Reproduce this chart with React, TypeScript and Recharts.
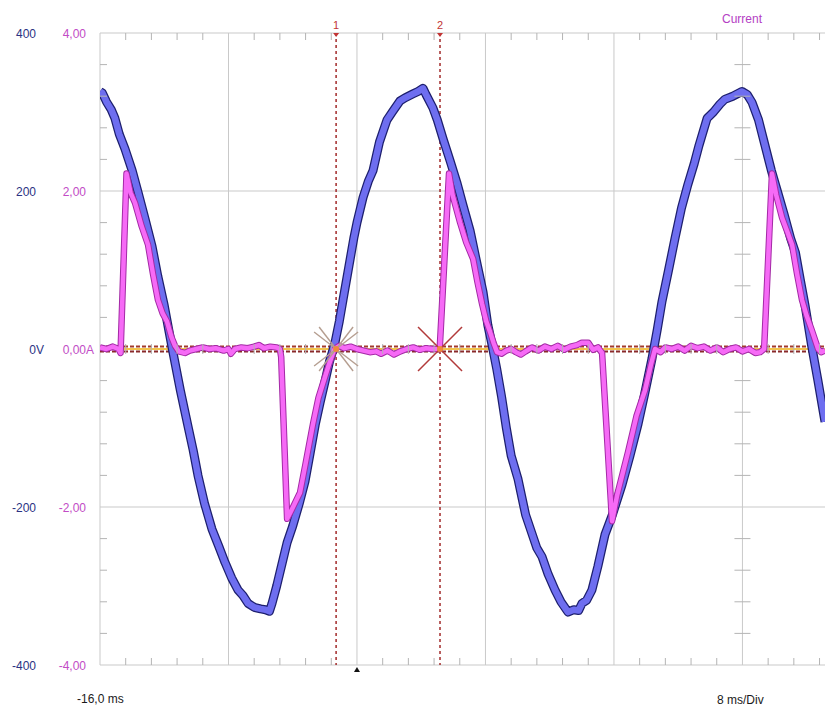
import React from 'react';
import { LineChart, Line, XAxis, YAxis, ReferenceLine, ReferenceDot } from 'recharts';

// Voltage trace: time (ms) and volts
const voltTime = [
  -16.0, -15.85, -15.6, -15.3, -15.07, -14.8, -14.44, -14.0, -13.6, -13.2, -12.76, -12.4, -12.0, -11.7, -11.45,
  -11.0, -10.52, -10.2, -9.9, -9.5, -9.03, -8.6, -8.22, -7.8, -7.41, -7.1, -6.78, -6.4, -6.0, -5.7, -5.45, -5.29,
  -5.0, -4.67, -4.35, -4.0, -3.6, -3.24, -2.9, -2.6, -2.3, -2.0, -1.7, -1.4, -1.1, -0.87, -0.5, -0.2, 0.0, 0.38,
  0.7, 1.0, 1.4, 1.87, 2.2, 2.68, 3.0, 3.49, 3.8, 4.11, 4.3, 4.73, 5.0, 5.36, 5.8, 6.23, 6.6, 7.04, 7.4, 7.85,
  8.15, 8.41, 8.7, 9.0, 9.3, 9.6, 10.03, 10.5, 10.9, 11.2, 11.52, 11.9, 12.33, 12.7, 13.14, 13.5, 13.8, 14.01,
  14.3, 14.63, 15.0, 15.44, 15.9, 16.5, 17.0, 17.5, 17.9, 18.37, 18.7, 18.99, 19.4, 19.8, 20.2, 20.6, 21.0, 21.3,
  21.8, 22.2, 22.6, 22.9, 23.4, 23.97, 24.3, 24.6, 25.0, 25.4, 25.8, 26.2, 26.6, 27.0, 27.3, 27.6, 27.9, 28.3,
  28.7, 29.14,
];
const voltValue = [
  326, 324, 313, 303, 292, 272, 253, 226, 196, 165, 130, 92, 55, 22, -5,
  -52, -98, -128, -160, -195, -228, -250, -270, -290, -305, -312, -322, -327, -329, -330, -332, -322,
  -300, -272, -245, -224, -196, -168, -130, -96, -68, -42, -15, 5, 35, 62, 105, 140, 160, 192,
  212, 226, 262, 290, 300, 314, 318, 323, 326, 330, 322, 305, 290, 266, 238, 210, 182, 150, 115, 72,
  30, 5, -25, -60, -100, -135, -165, -210, -234, -252, -263, -285, -305, -320, -333, -330, -331, -322,
  -318, -305, -275, -235, -210, -172, -135, -95, -58, -12, 25, 60, 100, 140, 178, 208, 235, 258,
  292, 300, 310, 316, 320, 326, 322, 312, 290, 258, 226, 198, 170, 140, 122, 88, 55, 5,
  -40, -92,
];

// Current trace: time (ms) and amps
const currTime = [
  -16.0, -15.6, -15.2, -14.85, -14.72, -14.35, -14.1, -13.82, -13.4, -13.01, -12.7, -12.39, -12.1, -11.83, -11.55,
  -11.33, -11.1, -10.71, -10.4, -10.0, -9.6, -9.2, -8.8, -8.3, -8.0, -7.85, -7.6, -7.2, -6.8, -6.4, -6.1, -5.8,
  -5.4, -5.0, -4.8, -4.72, -4.35, -4.1, -3.55, -3.2, -2.74, -2.4, -2.11, -1.75, -1.4, -1.1, -0.8, -0.4, 0.0,
  0.4, 0.8, 1.2, 1.5, 1.9, 2.3, 2.7, 3.1, 3.5, 3.9, 4.3, 4.7, 5.15, 5.73, 5.95, 6.42, 6.8, 7.23, 7.5, 7.79,
  8.05, 8.28, 8.5, 8.72, 9.0, 9.3, 9.6, 9.9, 10.2, 10.5, 10.9, 11.3, 11.7, 12.1, 12.5, 12.9, 13.3, 13.7, 14.0,
  14.4, 14.7, 15.0, 15.26, 15.88, 16.2, 16.88, 17.4, 17.94, 18.3, 18.56, 18.9, 19.2, 19.6, 20.0, 20.4, 20.8,
  21.2, 21.6, 22.0, 22.4, 22.8, 23.2, 23.6, 24.0, 24.4, 24.8, 25.1, 25.35, 25.84, 26.1, 26.47, 26.8, 27.09,
  27.4, 27.71, 28.0, 28.33, 28.71, 28.9, 29.14,
];
const currValue = [
  0.02, 0.0, 0.03, 0.0, -0.05, 2.22, 1.98, 1.85, 1.55, 1.32, 0.95, 0.62, 0.45, 0.35, 0.15,
  0.04, -0.03, -0.05, -0.02, 0.0, 0.02, 0.0, 0.01, -0.02, 0.0, -0.06, 0.0, 0.02, 0.01, 0.03, 0.05, 0.01,
  0.03, 0.02, 0.0, -0.1, -2.15, -2.05, -1.82, -1.45, -0.95, -0.62, -0.43, -0.2, 0.0, 0.04, 0.01, 0.03, 0.0,
  -0.02, -0.04, -0.03, -0.06, -0.02, -0.07, -0.03, 0.0, 0.02, -0.01, 0.01, 0.0, 0.0, 2.22, 1.95, 1.6, 1.35, 1.14, 0.85, 0.57,
  0.35, 0.22, 0.08, -0.04, -0.06, -0.02, 0.0, -0.04, -0.07, -0.03, 0.02, -0.02, 0.03, 0.0, 0.04, -0.01, 0.03, 0.05, 0.08,
  0.08, -0.01, 0.02, -0.05, -2.18, -1.85, -1.3, -0.85, -0.52, -0.2, 0.0, -0.04, 0.02, 0.0, 0.03, -0.02, 0.04,
  0.01, 0.03, -0.02, 0.02, -0.04, 0.0, 0.02, -0.03, 0.0, -0.05, -0.04, 0.0, 2.22, 1.95, 1.66, 1.48, 1.32,
  0.95, 0.62, 0.42, 0.23, 0.0, -0.04, -0.02,
];

// Axis labels
const voltTicks = [400, 200, 0, -200, -400];
const voltLabels = ['400', '200', '0', '-200', '-400'];
const ampLabels = ['4,00', '2,00', '0,00', '-2,00', '-4,00'];

// Screen divisions (8 ms/div, 200 V/div) and sub-divisions
const timeDomain = [-16, 29.14];
const gridTimes = [-8, 0, 8, 16, 24];
const gridVolts = [200, -200];
const minorTimes = [
  -14.4, -12.8, -11.2, -9.6, -6.4, -4.8, -3.2, -1.6, 1.6, 3.2, 4.8, 6.4, 9.6, 11.2, 12.8, 14.4,
  17.6, 19.2, 20.8, 22.4, 25.6, 27.2, 28.8,
];
const minorVolts = [360, 320, 280, 240, 160, 120, 80, 40, -40, -80, -120, -160, -240, -280, -320, -360];
const centerTime = 24;
const triggerTime = 0;
const cursorTimes = [-1.3, 5.17];
const cursorNames = ['1', '2'];

const voltData = voltTime.map((t, i) => ({ t, v: voltValue[i] }));
const currData = currTime.map((t, i) => ({ t, a: currValue[i] }));

const FONT = '"Liberation Sans", Arial, sans-serif';
const GRID = '#c9c9c9';
const TICK = '#b4b4b4';
const NAVY = '#2b3283';
const MAGENTA = '#c24cc6';
const CURSOR = '#a32a2a';

function VoltTick(props: any) {
  const { y, payload } = props;
  const i = voltTicks.indexOf(payload.value);
  const zero = payload.value === 0;
  return (
    <g fontFamily={FONT} fontSize={12}>
      <text x={36} y={y + 1} textAnchor="end" dominantBaseline="central" fill={NAVY}>{voltLabels[i]}</text>
      {zero && <text x={36} y={y + 1} textAnchor="start" dominantBaseline="central" fill={NAVY}>V</text>}
      <text x={86} y={y + 1} textAnchor="end" dominantBaseline="central" fill={MAGENTA}>{ampLabels[i]}</text>
      {zero && <text x={86} y={y + 1} textAnchor="start" dominantBaseline="central" fill={MAGENTA}>A</text>}
    </g>
  );
}

// voltage and current zero markers sit on top of each other
function ZeroLines(p: any) {
  const { x1, x2, y1 } = p;
  return (
    <g>
      <line x1={x1} x2={x2} y1={y1} y2={y1} stroke="#f2c44c" strokeWidth={2} />
      <line x1={x1} x2={x2} y1={y1 - 2.5} y2={y1 - 2.5} stroke="#a23a2c" strokeWidth={2} strokeDasharray="4 2" />
      <line x1={x1} x2={x2} y1={y1 + 2.5} y2={y1 + 2.5} stroke="#8a2a2a" strokeWidth={2} strokeDasharray="4 2" />
    </g>
  );
}

const cursorShape = (name: string) => (p: any) => {
  const top = Math.min(p.y1, p.y2);
  const bottom = Math.max(p.y1, p.y2);
  return (
    <g>
      <line x1={p.x1} x2={p.x1} y1={top} y2={bottom} stroke={CURSOR} strokeWidth={1.5} strokeDasharray="3 3" />
      <path d={`M${p.x1 - 3},${top} L${p.x1 + 3},${top} L${p.x1},${top + 4} Z`} fill="#c23434" />
      <text x={p.x1} y={top - 8} textAnchor="middle" dominantBaseline="central" fontFamily={FONT} fontSize={11} fill="#c23434">
        {name}
      </text>
    </g>
  );
};

const StarMarker = (p: any) => {
  const { cx, cy } = p;
  return (
    <g stroke="#b59e90" strokeWidth={1.4}>
      <line x1={cx - 17} y1={cy - 22} x2={cx + 17} y2={cy + 22} />
      <line x1={cx - 22} y1={cy - 17} x2={cx + 22} y2={cy + 17} />
      <line x1={cx - 17} y1={cy + 22} x2={cx + 17} y2={cy - 22} />
      <line x1={cx - 22} y1={cy + 17} x2={cx + 22} y2={cy - 17} />
      <circle cx={cx} cy={cy} r={3} fill="#f08a3c" stroke="none" />
    </g>
  );
};

const CrossMarker = (p: any) => {
  const { cx, cy } = p;
  return (
    <g stroke="#b23a3a" strokeWidth={1.5}>
      <line x1={cx - 22} y1={cy - 22} x2={cx + 22} y2={cy + 22} />
      <line x1={cx - 22} y1={cy + 22} x2={cx + 22} y2={cy - 22} />
      <circle cx={cx} cy={cy} r={3} fill="#f08a3c" stroke="none" />
    </g>
  );
};

const tickDown = (p: any) => <line x1={p.cx} x2={p.cx} y1={p.cy} y2={p.cy + 7} stroke={TICK} />;
const tickUp = (p: any) => <line x1={p.cx} x2={p.cx} y1={p.cy - 7} y2={p.cy} stroke={TICK} />;
const tickMid = (p: any) => <line x1={p.cx} x2={p.cx} y1={p.cy - 5} y2={p.cy + 5} stroke={TICK} />;
const tickRight = (p: any) => <line x1={p.cx} x2={p.cx + 7} y1={p.cy} y2={p.cy} stroke={TICK} />;
const tickCross = (p: any) => <line x1={p.cx - 8} x2={p.cx + 8} y1={p.cy} y2={p.cy} stroke={TICK} />;
const triggerMark = (p: any) => (
  <path d={`M${p.cx - 3},${p.cy + 7} L${p.cx + 3},${p.cy + 7} L${p.cx},${p.cy + 2} Z`} fill="#111" />
);

const textStyle: React.CSSProperties = {
  position: 'absolute',
  fontFamily: FONT,
  fontSize: 12,
  lineHeight: '14px',
  whiteSpace: 'nowrap',
};

export default function App() {
  return (
    <div style={{ position: 'absolute', left: 0, top: 0, width: 825, height: 709, background: '#fff', overflow: 'hidden' }}>
      <LineChart width={825} height={709} margin={{ top: 33, right: 0, bottom: 44, left: 0 }}>
        <XAxis dataKey="t" type="number" domain={timeDomain} allowDataOverflow hide />
        <YAxis
          yAxisId="v"
          type="number"
          domain={[-400, 400]}
          ticks={voltTicks}
          interval={0}
          width={100}
          tick={VoltTick}
          tickLine={false}
          axisLine={false}
        />
        <YAxis yAxisId="a" type="number" domain={[-4, 4]} hide />

        {/* frame and divisions */}
        <ReferenceLine yAxisId="v" x={timeDomain[0]} stroke={GRID} ifOverflow="visible" />
        <ReferenceLine yAxisId="v" y={400} stroke={GRID} ifOverflow="visible" />
        <ReferenceLine yAxisId="v" y={-400} stroke={GRID} ifOverflow="visible" />
        {gridTimes.map((t) => (
          <ReferenceLine key={`gx${t}`} yAxisId="v" x={t} stroke={GRID} />
        ))}
        {gridVolts.map((v) => (
          <ReferenceLine key={`gy${v}`} yAxisId="v" y={v} stroke={GRID} />
        ))}
        {minorTimes.map((t) => (
          <ReferenceDot key={`mt${t}`} yAxisId="v" x={t} y={400} shape={tickDown} ifOverflow="visible" />
        ))}
        {minorTimes.map((t) => (
          <ReferenceDot key={`mb${t}`} yAxisId="v" x={t} y={-400} shape={tickUp} ifOverflow="visible" />
        ))}
        {minorTimes.map((t) => (
          <ReferenceDot key={`mm${t}`} yAxisId="v" x={t} y={0} shape={tickMid} ifOverflow="visible" />
        ))}
        {minorVolts.map((v) => (
          <ReferenceDot key={`ml${v}`} yAxisId="v" x={timeDomain[0]} y={v} shape={tickRight} ifOverflow="visible" />
        ))}
        {minorVolts.map((v) => (
          <ReferenceDot key={`mc${v}`} yAxisId="v" x={centerTime} y={v} shape={tickCross} ifOverflow="visible" />
        ))}
        <ReferenceDot yAxisId="v" x={triggerTime} y={-400} shape={triggerMark} ifOverflow="visible" />

        <ReferenceLine yAxisId="v" y={0} shape={ZeroLines} />
        {cursorTimes.map((t, i) => (
          <ReferenceLine key={`c${i}`} yAxisId="v" x={t} shape={cursorShape(cursorNames[i])} />
        ))}

        {/* voltage trace: dark outline + blue body */}
        <Line yAxisId="v" data={voltData} dataKey="v" type="linear" stroke="#1d1f6e" strokeWidth={9}
          strokeLinejoin="round" dot={false} activeDot={false} isAnimationActive={false} />
        <Line yAxisId="v" data={voltData} dataKey="v" type="linear" stroke="#6e6ef0" strokeWidth={6.5}
          strokeLinejoin="round" dot={false} activeDot={false} isAnimationActive={false} />

        {/* current trace: purple outline + magenta body */}
        <Line yAxisId="a" data={currData} dataKey="a" type="linear" stroke="#a32aa5" strokeWidth={6.5}
          strokeLinejoin="round" dot={false} activeDot={false} isAnimationActive={false} />
        <Line yAxisId="a" data={currData} dataKey="a" type="linear" stroke="#f66af6" strokeWidth={4.5}
          strokeLinejoin="round" dot={false} activeDot={false} isAnimationActive={false} />

        <ReferenceDot yAxisId="v" x={cursorTimes[0]} y={0} shape={StarMarker} />
        <ReferenceDot yAxisId="v" x={cursorTimes[1]} y={0} shape={CrossMarker} />
      </LineChart>

      <div style={{ ...textStyle, left: 722, top: 12, color: '#b440c4' }}>Current</div>
      <div style={{ ...textStyle, left: 77, top: 692, color: '#1a1a1a' }}>-16,0 ms</div>
      <div style={{ ...textStyle, left: 717, top: 693, color: '#1a1a1a' }}>8 ms/Div</div>
    </div>
  );
}
